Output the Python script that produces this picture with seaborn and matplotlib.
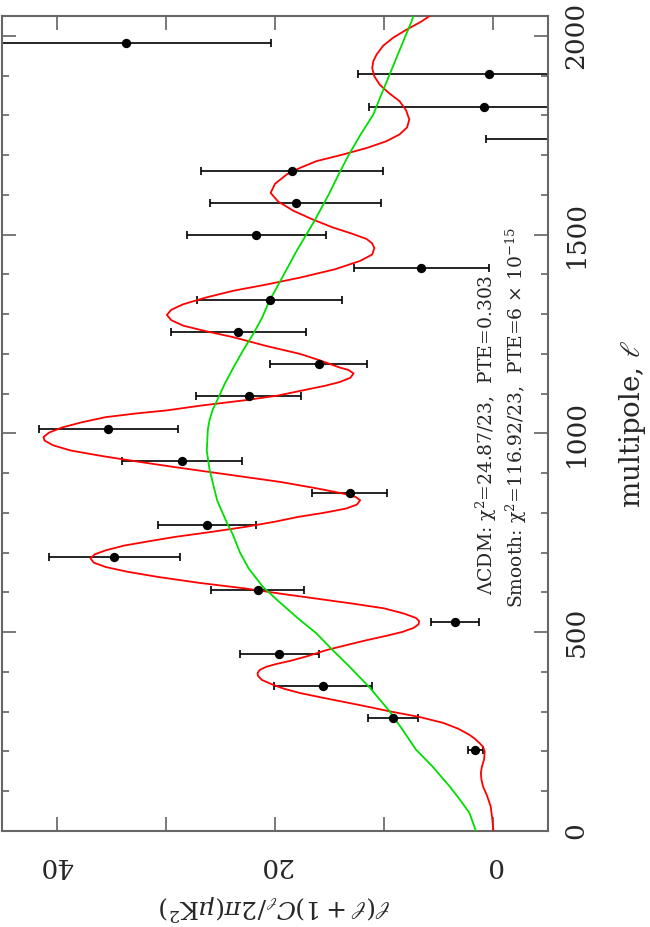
import numpy as np
import matplotlib
matplotlib.use("Agg")
import matplotlib.pyplot as plt
import seaborn as sns

ell_bins = [203, 284, 364, 445, 526, 607, 688, 769, 849, 930, 1012, 1093,
            1174, 1255, 1336, 1417, 1499, 1579, 1660, 1741, 1821, 1903, 1983]
power = [1.64, 9.2, 15.6, 19.6, 3.5, 21.6, 34.7, 26.2, 13.15, 28.5, 35.25, 22.4,
         16.0, 23.35, 20.5, 6.6, 21.7, 18.1, 18.45, -10.0, 0.85, 0.4, 33.6]
power_err = [0.7, 2.25, 4.45, 3.65, 2.2, 4.25, 6.0, 4.5, 3.45, 5.5, 6.35, 4.8,
             4.45, 6.2, 6.65, 6.2, 6.4, 7.85, 8.35, 10.7, 10.5, 12.0, 13.2]

# LCDM model curve
red_ell = [0, 30, 62, 90, 112, 130, 146, 162, 180, 200, 212, 222, 232, 242, 257,
           272, 287, 301, 312, 322, 335, 347, 358, 368, 380, 390, 397, 405, 413,
           420, 428, 440, 455, 468, 480, 491, 501, 511, 520, 528, 536, 547, 560,
           572, 585, 597, 610, 624, 639, 652, 664, 675, 686, 696, 706, 718, 729,
           740, 752, 765, 778, 790, 800, 811, 821, 832, 840, 849, 863, 878, 890,
           903, 915, 928, 943, 957, 970, 982, 991, 1002, 1015, 1028, 1041, 1050,
           1058, 1070, 1083, 1095, 1108, 1120, 1129, 1140, 1151, 1160, 1166, 1183,
           1200, 1220, 1242, 1257, 1271, 1285, 1298, 1311, 1325, 1342, 1359, 1375,
           1392, 1413, 1434, 1450, 1466, 1478, 1489, 1503, 1518, 1540, 1560, 1583,
           1605, 1628, 1652, 1668, 1685, 1700, 1718, 1735, 1752, 1770, 1790, 1813,
           1836, 1857, 1877, 1898, 1919, 1936, 1953, 1975, 1995, 2015, 2036, 2060]
red_val = [0.0, 0.1, 0.25, 0.6, 0.95, 1.1, 1.15, 1.05, 0.85, 0.8, 0.95, 1.3, 1.7,
           2.2, 3.2, 4.6, 6.8, 9.5, 11.4, 13.2, 15.6, 17.7, 19.2, 20.2, 21.2,
           21.55, 21.6, 21.4, 20.8, 19.9, 18.6, 17.0, 15.3, 13.4, 11.6, 9.8, 8.3,
           7.3, 6.85, 6.8, 7.1, 8.2, 10.0, 12.9, 16.3, 19.5, 22.7, 26.9, 30.7,
           33.5, 35.5, 36.6, 36.9, 36.5, 35.5, 33.8, 31.5, 29.1, 25.9, 22.7, 20.0,
           17.9, 15.6, 13.5, 12.5, 12.2, 12.6, 13.8, 16.4, 19.5, 22.6, 25.9, 29.1,
           32.3, 35.8, 38.7, 40.3, 41.1, 41.2, 40.7, 39.5, 37.7, 35.5, 32.8, 29.9,
           26.8, 22.9, 19.8, 17.5, 15.4, 14.1, 13.1, 12.8, 13.3, 14.1, 15.8, 17.7,
           20.8, 23.8, 26.3, 28.4, 29.5, 29.9, 29.5, 28.4, 26.3, 23.8, 20.7, 17.7,
           14.5, 12.2, 11.1, 10.9, 11.1, 11.6, 13.0, 14.7, 16.7, 18.3, 19.7, 20.4,
           20.0, 18.9, 17.7, 16.2, 14.0, 11.6, 9.8, 8.6, 7.9, 7.7, 8.0, 8.6, 9.6,
           10.4, 10.9, 11.1, 11.0, 10.7, 10.1, 9.2, 8.0, 6.6, 5.3]

# smooth (no-peak) model curve
green_ell = [0, 46, 80, 112, 163, 205, 250, 301, 360, 414, 460, 497, 535, 581,
             614, 660, 700, 748, 769, 800, 832, 865, 910, 957, 982, 1010, 1033,
             1060, 1083, 1125, 1166, 1210, 1250, 1290, 1334, 1384, 1460, 1534,
             1600, 1650, 1698, 1750, 1802, 1850, 1903, 1970, 2036, 2060]
green_val = [1.6, 2.2, 3.1, 4.0, 5.6, 7.1, 8.2, 9.5, 11.3, 13.2, 14.9, 16.2,
             17.9, 19.8, 21.1, 22.4, 23.2, 23.9, 24.3, 24.8, 25.3, 25.6, 26.0,
             26.25, 26.2, 26.15, 26.0, 25.7, 25.3, 24.6, 23.8, 22.9, 22.0, 21.2,
             20.5, 19.5, 18.0, 16.4, 15.1, 14.2, 13.3, 12.2, 11.0, 10.3, 9.5, 8.5,
             7.5, 7.2]

sns.set_style("ticks")
plt.rcParams['font.family'] = ['DejaVu Serif']
plt.rcParams['mathtext.fontset'] = 'dejavuserif'

fig = plt.figure(figsize=(6.5, 9.27), dpi=100)
ax = fig.add_axes([2 / 650, 96 / 927, 546 / 650, 815 / 927])

ax.errorbar(power, ell_bins, xerr=power_err, fmt='none', ecolor='black',
            elinewidth=1.2, capsize=2.8, capthick=1.2, zorder=2)
sns.lineplot(x=red_val, y=red_ell, sort=False, estimator=None, color='#ff0000',
             lw=1.3, ax=ax, zorder=3)
sns.lineplot(x=green_val, y=green_ell, sort=False, estimator=None, color='#00dd00',
             lw=1.3, ax=ax, zorder=3)
sns.scatterplot(x=power, y=ell_bins, color='black', s=45, edgecolor='black',
                linewidth=0, ax=ax, zorder=4)

ax.set_xlim(45, -5)
ax.set_ylim(0, 2050)
ax.set_xticks([40, 20, 0])
ax.set_xticks([30, 10], minor=True)
ax.set_yticks([0, 500, 1000, 1500, 2000])
ax.set_yticks([v for v in range(100, 2050, 100) if v % 500], minor=True)

ax.tick_params(axis='x', which='both', direction='in', top=True, bottom=True,
               length=10, width=1.1, color='#555555', labelsize=19,
               labelrotation=180, pad=16)
ax.tick_params(axis='y', which='major', direction='in', left=True, right=True,
               length=10, width=1.1, color='#555555', labelleft=False,
               labelright=True, labelsize=19, labelrotation=90, pad=11)
ax.tick_params(axis='y', which='minor', direction='in', left=True, right=True,
               length=5, width=1.1, color='#555555')
for lab in ax.get_yticklabels():
    lab.set_va('center')

for sp in ax.spines.values():
    sp.set_color('#666666')
    sp.set_linewidth(1.5)

ax.set_xlabel(r'$\ell(\ell+1)C_\ell/2\pi(\mu{\rm K}^2)$', fontsize=18,
              rotation=180, labelpad=10)
ax.yaxis.set_label_position('right')
ax.set_ylabel(r'multipole, $\ell$', fontsize=20, rotation=90, labelpad=21)

ax.text(0.888, 0.486, 'ΛCDM: χ$^2$=24.87/23,  PTE=0.303',
        transform=ax.transAxes, rotation=90, fontsize=13.5,
        ha='center', va='center')
ax.text(0.943, 0.508, 'Smooth: χ$^2$=116.92/23,  PTE=6 × 10$^{-15}$',
        transform=ax.transAxes, rotation=90, fontsize=13.5,
        ha='center', va='center')

fig.savefig('out.png', dpi=100)
